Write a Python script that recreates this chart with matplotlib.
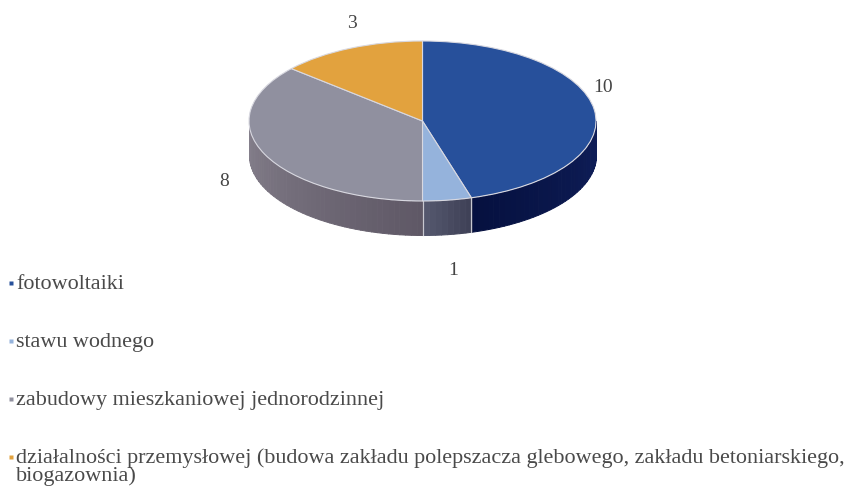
import numpy as np
import matplotlib
matplotlib.use('Agg')
import matplotlib.pyplot as plt
from matplotlib.colors import to_rgb

values = [10, 1, 8, 3]
labels = ['fotowoltaiki', 'stawu wodnego', 'zabudowy mieszkaniowej jednorodzinnej',
          'działalności przemysłowej (budowa zakładu polepszacza glebowego, zakładu betoniarskiego,\nbiogazownia)']
top_colors = ['#27509B', '#95B3DC', '#90909F', '#E2A23E']
side_dark = ['#05103F', '#3F4157', '#5F5866', '#9A6A20']
side_light = ['#101F5A', '#575A70', '#85808C', '#B98030']

W, H = 851, 486
cx, cy, rx, ry, depth = 422.5, 121, 173.5, 80, 34

plt.rcParams['font.family'] = ['Liberation Serif', 'DejaVu Serif']
fig = plt.figure(figsize=(W / 100, H / 100), dpi=100)

# pie drawn in a unit circle, squashed by the axes limits
ax = fig.add_axes([0, 0, 1, 1])
wedges, _ = ax.pie(values, colors=top_colors, startangle=90, counterclock=False,
                   wedgeprops={'edgecolor': '#D8D8E0', 'linewidth': 0.8})
for w in wedges:
    w.set_zorder(5)
ax.set_aspect('auto')
ax.set_xlim(-cx / rx, (W - cx) / rx)
ax.set_ylim(-(H - cy) / ry, cy / ry)
ax.set_axis_off()

# side wall of the disc, only the front half shows
d = depth / ry
edges = np.cumsum([0] + values) / sum(values) * 2 * np.pi
for i in range(len(values)):
    a0, a1 = edges[i], edges[i + 1]
    lo, hi = max(a0, np.pi / 2), min(a1, 3 * np.pi / 2)
    if hi <= lo:
        continue
    steps = max(int((hi - lo) * 30), 2)
    t = np.linspace(lo, hi, steps + 1)
    c0, c1 = np.array(to_rgb(side_dark[i])), np.array(to_rgb(side_light[i]))
    for k in range(steps):
        seg = np.linspace(t[k], t[k + 1], 4)
        x = np.sin(seg)
        y = np.cos(seg)
        mix = k / steps if i > 0 else 1 - k / steps
        ax.fill_between(x, y, y - d, color=c0 + (c1 - c0) * mix, lw=0.7, zorder=2, antialiased=False)
    # seams between the slices
    for a in (lo, hi):
        if abs(a - np.pi / 2) > 1e-6 and abs(a - 3 * np.pi / 2) > 1e-6:
            ax.plot([np.sin(a)] * 2, [np.cos(a), np.cos(a) - d], color='#C8C8D0', lw=0.8, zorder=3)

# overlay in pixel coordinates for labels and the legend
ov = fig.add_axes([0, 0, 1, 1], facecolor='none')
ov.set_xlim(0, W)
ov.set_ylim(H, 0)
ov.set_axis_off()

value_pos = [(603, 87), (453, 270), (224, 181), (352, 23)]
for v, (x, y) in zip(values, value_pos):
    ov.text(x, y, str(v), fontsize=14, color='#444444', ha='center', va='center')

legend_y = [283, 341, 399, 457]
for lab, y, c in zip(labels, legend_y, top_colors):
    ov.plot([11], [y], marker='s', ms=3.2, color=c, mec='none')
    for n, line in enumerate(lab.split('\n')):
        ov.text(16, y + 5.5 + n * 18, line, fontsize=15.9, color='#4A4A4A', ha='left', va='baseline')

fig.savefig('out.png', dpi=100)
